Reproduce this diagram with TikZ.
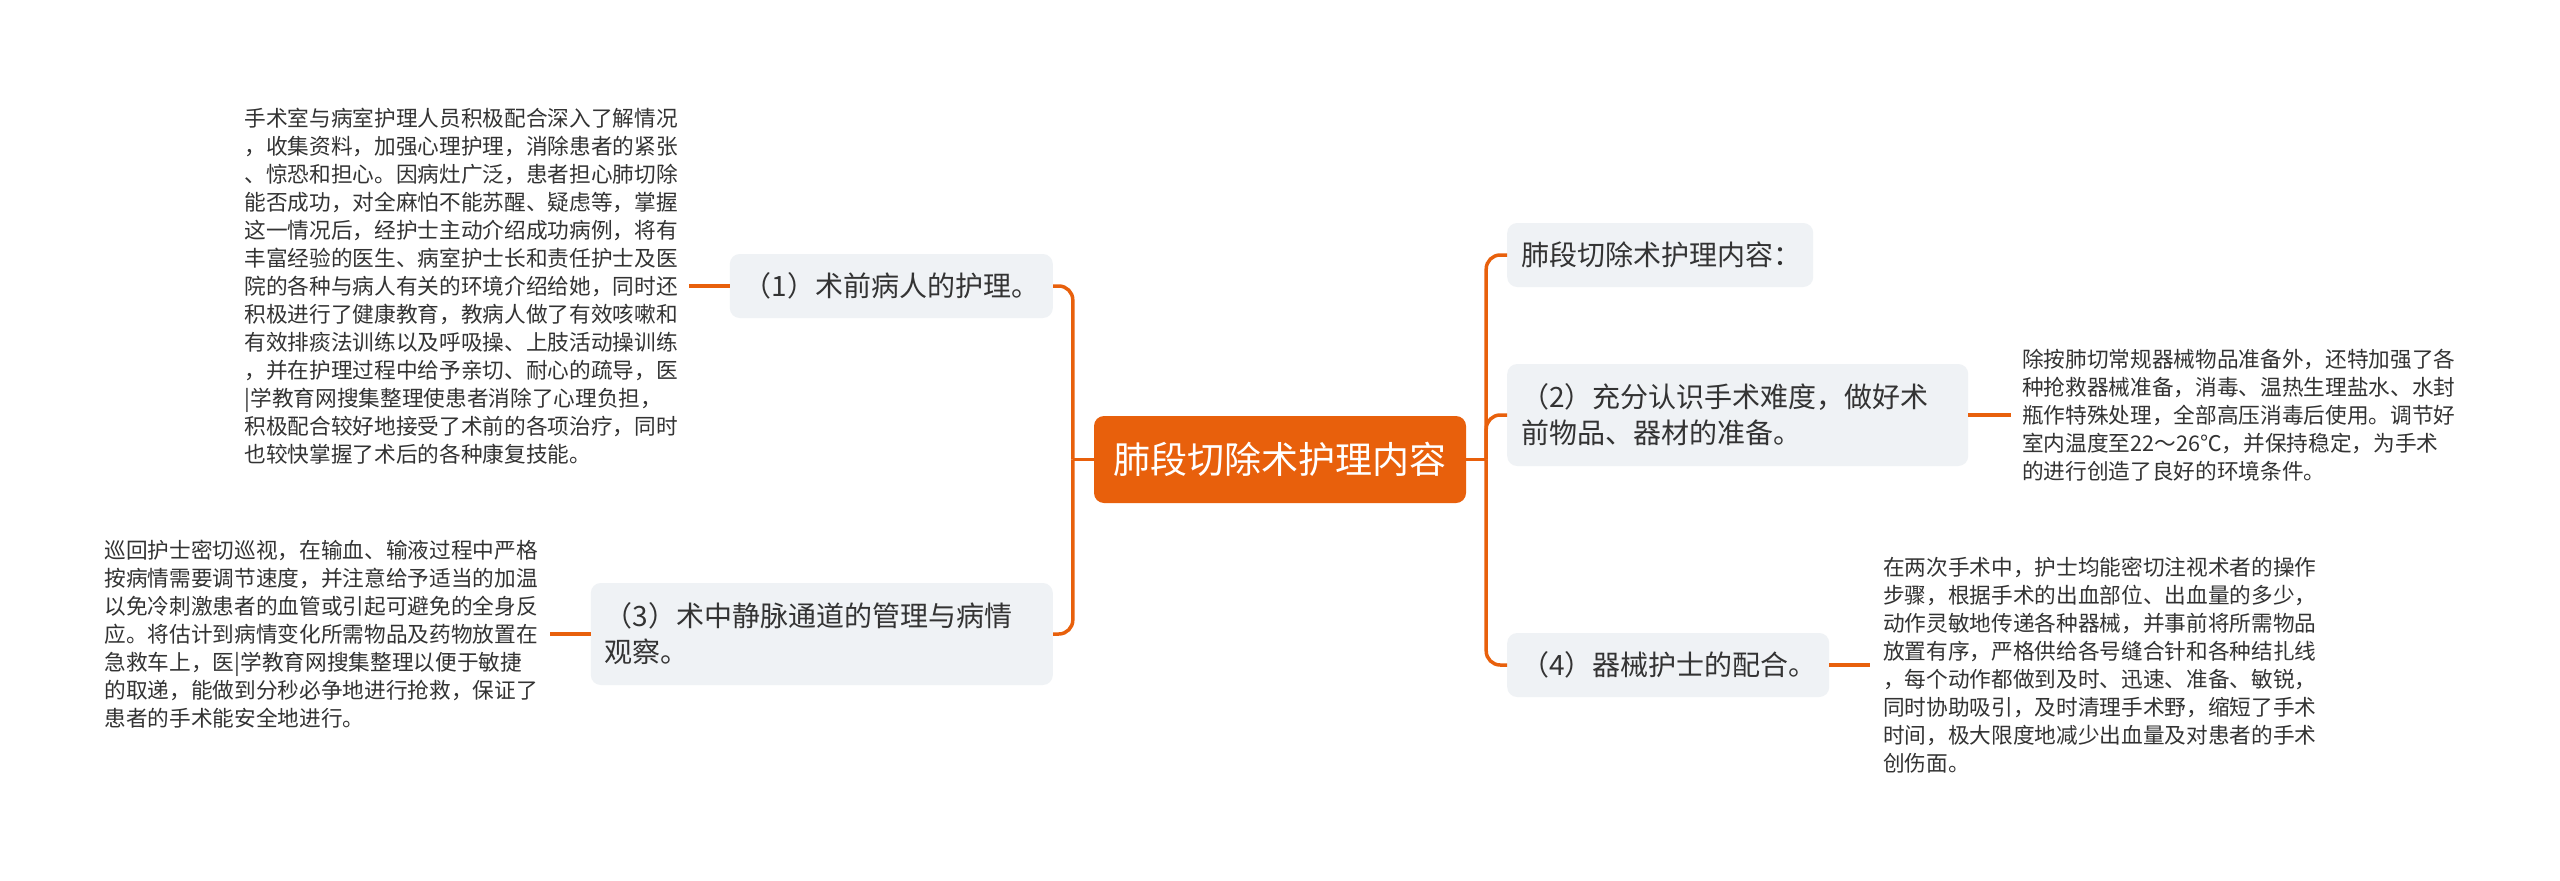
\documentclass[tikz,border=0pt]{standalone}
\usepackage{fontspec}
\setmainfont{Noto Sans CJK SC}
\usetikzlibrary{calc}
\definecolor{brand}{HTML}{E8600C}
\definecolor{boxgray}{HTML}{EFF2F5}
\definecolor{ink}{HTML}{333333}
\begin{document}
\begin{tikzpicture}[x=1pt,y=-1pt,
  link/.style={draw=brand,line width=3.5pt},
  topic/.style={fill=boxgray, rounded corners=10pt, text=ink, font=\fontsize{28}{36}\selectfont, align=left, inner xsep=14pt, inner ysep=0pt},
  leaf/.style={text=ink, font=\fontsize{21.66}{28}\selectfont, align=left, inner ysep=0pt},
]
\fill[white] (0,0) rectangle (2560,881);
\useasboundingbox (0,0) rectangle (2560,881);

% central topic
\node[fill=brand, rounded corners=10pt, text=white, font=\fontsize{37}{44}\selectfont, minimum width=372pt, minimum height=87pt, inner sep=0pt] (c) at (1280,459.5) {肺段切除术护理内容};

% right topics
\node[topic, anchor=west, text width=278pt, minimum height=64pt] (r1) at (1507,255) {肺段切除术护理内容：};
\node[topic, anchor=west, text width=433pt, minimum height=102pt] (r2) at (1507,415) {（2）充分认识手术难度，做好术\\前物品、器材的准备。};
\node[topic, anchor=west, text width=294pt, minimum height=64pt] (r4) at (1507,665) {（4）器械护士的配合。};

% left topics
\node[topic, anchor=east, text width=295pt, minimum height=64pt] (l1) at (1053,286) {（1）术前病人的护理。};
\node[topic, anchor=east, text width=434pt, minimum height=102pt] (l3) at (1053,634) {（3）术中静脉通道的管理与病情\\观察。};

% leaves
\node[leaf, anchor=west, inner xsep=11pt] (lr2) at (2011,415) {除按肺切常规器械物品准备外，还特加强了各\\种抢救器械准备，消毒、温热生理盐水、水封\\瓶作特殊处理，全部高压消毒后使用。调节好\\室内温度至22～26℃，并保持稳定，为手术\\的进行创造了良好的环境条件。};
\node[leaf, anchor=west, inner xsep=13pt] (lr4) at (1870,665) {在两次手术中，护士均能密切注视术者的操作\\步骤，根据手术的出血部位、出血量的多少，\\动作灵敏地传递各种器械，并事前将所需物品\\放置有序，严格供给各号缝合针和各种结扎线\\，每个动作都做到及时、迅速、准备、敏锐，\\同时协助吸引，及时清理手术野，缩短了手术\\时间，极大限度地减少出血量及对患者的手术\\创伤面。};
\node[leaf, anchor=east, inner xsep=11pt] (ll1) at (689,286) {手术室与病室护理人员积极配合深入了解情况\\，收集资料，加强心理护理，消除患者的紧张\\、惊恐和担心。因病灶广泛，患者担心肺切除\\能否成功，对全麻怕不能苏醒、疑虑等，掌握\\这一情况后，经护士主动介绍成功病例，将有\\丰富经验的医生、病室护士长和责任护士及医\\院的各种与病人有关的环境介绍给她，同时还\\积极进行了健康教育，教病人做了有效咳嗽和\\有效排痰法训练以及呼吸操、上肢活动操训练\\，并在护理过程中给予亲切、耐心的疏导，医\\|学教育网搜集整理使患者消除了心理负担，\\积极配合较好地接受了术前的各项治疗，同时\\也较快掌握了术后的各种康复技能。};
\node[leaf, anchor=east, inner xsep=12pt] (ll3) at (550,634) {巡回护士密切巡视，在输血、输液过程中严格\\按病情需要调节速度，并注意给予适当的加温\\以免冷刺激患者的血管或引起可避免的全身反\\应。将估计到病情变化所需物品及药物放置在\\急救车上，医|学教育网搜集整理以便于敏捷\\的取递，能做到分秒必争地进行抢救，保证了\\患者的手术能安全地进行。};

% connectors
\coordinate (rt) at ($(c.east)+(20,0)$);
\coordinate (lt) at ($(c.west)+(-21,0)$);
\draw[link] (c.east) -- (rt);
\draw[link] (c.west) -- (lt);
\draw[link, rounded corners=14pt] (rt) |- (r1.west);
\draw[link, rounded corners=14pt] (rt) |- (r2.west);
\draw[link, rounded corners=14pt] (rt) |- (r4.west);
\draw[link, rounded corners=14pt] (lt) |- (l1.east);
\draw[link, rounded corners=14pt] (lt) |- (l3.east);
\draw[link] (r2.east) -- (lr2.west);
\draw[link] (r4.east) -- (lr4.west);
\draw[link] (l1.west) -- (ll1.east);
\draw[link] (l3.west) -- (ll3.east);
\end{tikzpicture}
\end{document}
